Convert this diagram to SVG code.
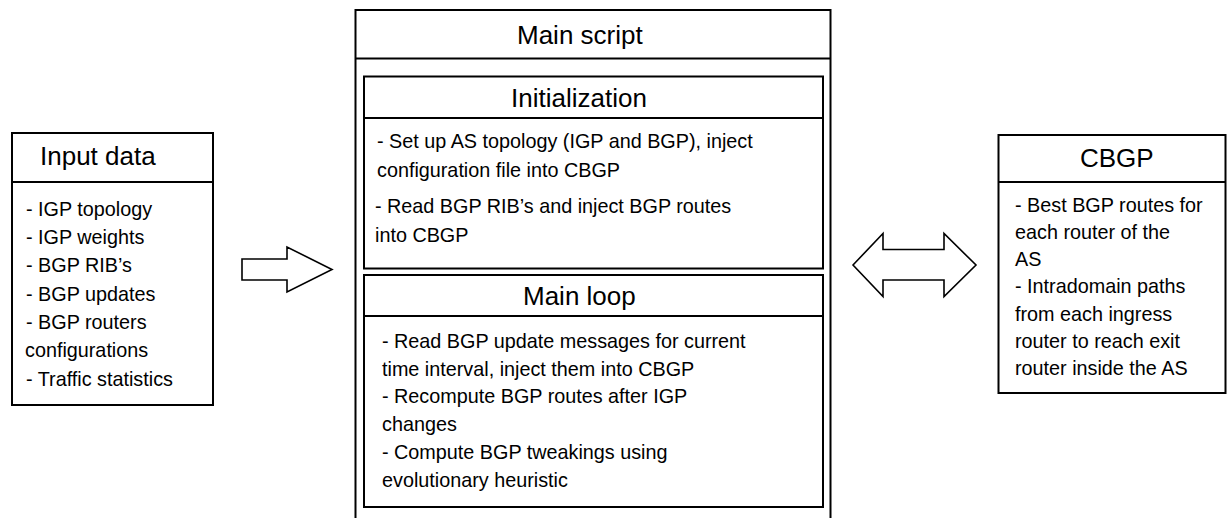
<svg xmlns="http://www.w3.org/2000/svg" width="1227" height="518" viewBox="0 0 1227 518">
<style>
.box{fill:#fff;stroke:#000;stroke-width:2}
.ln{stroke:#000;stroke-width:2;fill:none}
.arr{fill:#fff;stroke:#000;stroke-width:1.6;stroke-linejoin:miter}
.t{font-family:"Liberation Sans",Arial,sans-serif;font-size:26px;fill:#000}
.b{font-family:"Liberation Sans",Arial,sans-serif;font-size:19.8px;fill:#000}
</style>
<rect width="1227" height="518" fill="#fff"/>
<g id="input-data">
<rect class="box" x="12" y="133" width="201" height="272"/>
<line class="ln" x1="12" y1="182" x2="213" y2="182"/>
<text class="t" x="40" y="165">Input data</text>
<text class="b" x="26" y="216">- IGP topology</text>
<text class="b" x="26" y="244">- IGP weights</text>
<text class="b" x="26" y="272">- BGP RIB’s</text>
<text class="b" x="26" y="301">- BGP updates</text>
<text class="b" x="26" y="329">- BGP routers</text>
<text class="b" x="25" y="357">configurations</text>
<text class="b" x="26" y="386">- Traffic statistics</text>
</g>
<g id="main-script">
<rect class="box" x="355.5" y="10" width="475" height="520"/>
<line class="ln" x1="355.5" y1="58.5" x2="830.5" y2="58.5"/>
<text class="t" x="517" y="44">Main script</text>
</g>
<g id="initialization">
<rect class="box" x="364" y="76.5" width="459" height="192"/>
<line class="ln" x1="364" y1="118" x2="823" y2="118"/>
<text class="t" x="511" y="107">Initialization</text>
<text class="b" x="377" y="148">- Set up AS topology (IGP and BGP), inject</text>
<text class="b" x="377" y="177">configuration file into CBGP</text>
<text class="b" x="375" y="213">- Read BGP RIB’s and inject BGP routes</text>
<text class="b" x="375" y="242">into CBGP</text>
</g>
<g id="main-loop">
<rect class="box" x="364" y="275" width="459" height="232"/>
<line class="ln" x1="364" y1="316" x2="823" y2="316"/>
<text class="t" x="523" y="305">Main loop</text>
<text class="b" x="382" y="348">- Read BGP update messages for current</text>
<text class="b" x="382" y="376">time interval, inject them into CBGP</text>
<text class="b" x="382" y="403">- Recompute BGP routes after IGP</text>
<text class="b" x="382" y="431">changes</text>
<text class="b" x="382" y="459">- Compute BGP tweakings using</text>
<text class="b" x="382" y="487">evolutionary heuristic</text>
</g>
<g id="cbgp">
<rect class="box" x="998.5" y="135" width="227" height="258"/>
<line class="ln" x1="998.5" y1="182" x2="1225.5" y2="182"/>
<text class="t" x="1080" y="167">CBGP</text>
<text class="b" x="1015" y="212">- Best BGP routes for</text>
<text class="b" x="1015" y="239">each router of the</text>
<text class="b" x="1015" y="266">AS</text>
<text class="b" x="1015" y="293">- Intradomain paths</text>
<text class="b" x="1015" y="321">from each ingress</text>
<text class="b" x="1015" y="348">router to reach exit</text>
<text class="b" x="1015" y="375">router inside the AS</text>
</g>
<g id="connectors">
<polygon class="arr" points="242,259 287,259 287,247 332,269.5 287,292 287,280 242,280"/>
<polygon class="arr" points="853,265 883,233.5 883,249.5 944,249.5 944,233.5 976,265 944,296.5 944,280 883,280 883,296.5"/>
</g>
</svg>
